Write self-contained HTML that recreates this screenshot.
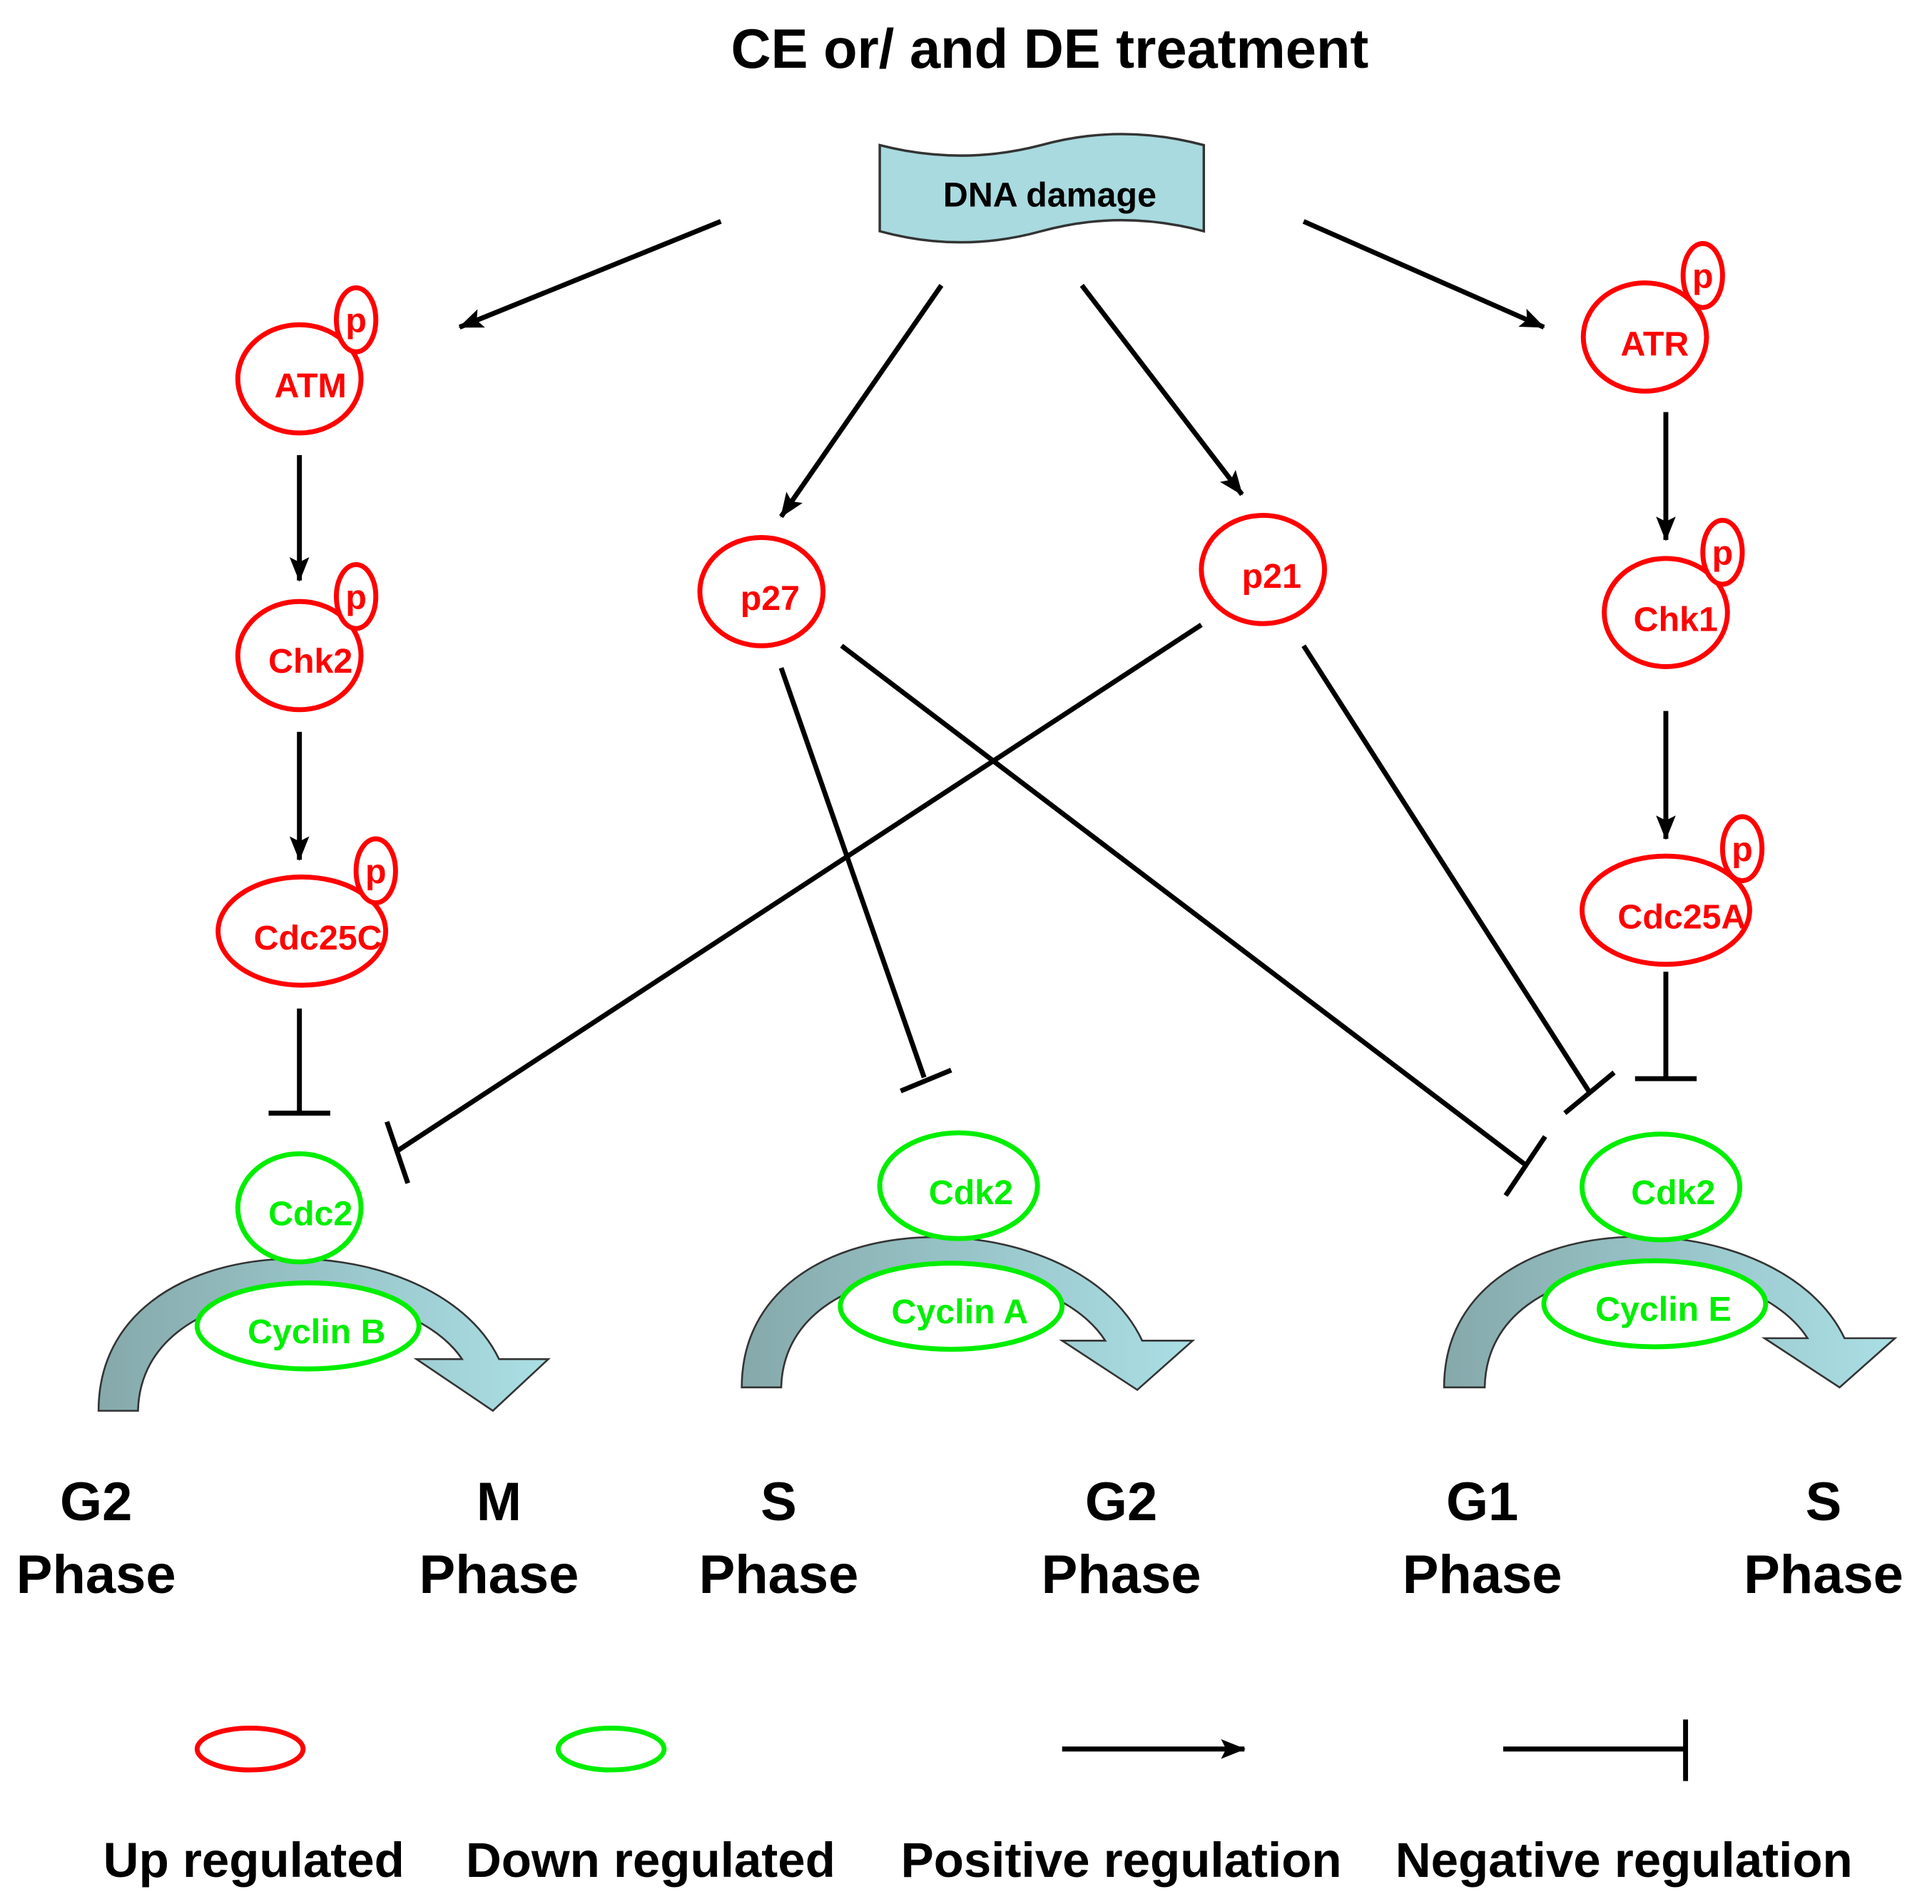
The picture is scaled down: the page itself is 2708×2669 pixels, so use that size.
<!DOCTYPE html>
<html><head><meta charset="utf-8"><style>
html,body{margin:0;padding:0;background:#fff;}
svg{display:block;}
text{font-family:"Liberation Sans",Arial,sans-serif;font-weight:bold;}
</style></head><body>
<svg width="2708" height="2669" viewBox="0 0 1568 1548" preserveAspectRatio="none" xmlns="http://www.w3.org/2000/svg">
<defs>
<marker id="ah" markerWidth="20" markerHeight="16" refX="19" refY="8" orient="auto" markerUnits="userSpaceOnUse" viewBox="0 0 20 16">
<path d="M0,0 L20,8 L0,16 L4,8 Z" fill="#000"/></marker>
<linearGradient id="g1" x1="0" x2="1" y1="0" y2="0"><stop offset="0" stop-color="#86a9ab"/><stop offset="0.5" stop-color="#98c4c8"/><stop offset="1" stop-color="#aadfe5"/></linearGradient>
</defs>
<rect width="1568" height="1548" fill="#fff"/>
<text x="852" y="55" font-size="45" text-anchor="middle">CE or/ and DE treatment</text>
<path d="M714,118 Q780,135 845,118 Q910,100 977,118 L977,188 Q910,170 845,188 Q780,206 714,188 Z" fill="#a8dadf" stroke="#333" stroke-width="2"/>
<text x="852" y="168" font-size="28" text-anchor="middle">DNA damage</text>

<g stroke="#000" stroke-width="4" fill="none" marker-end="url(#ah)">
<line x1="585" y1="180" x2="373" y2="266"/>
<line x1="764" y1="232" x2="634" y2="420"/>
<line x1="878" y1="232" x2="1008" y2="402"/>
<line x1="1058" y1="180" x2="1253" y2="266"/>
<line x1="243" y1="370" x2="243" y2="472"/>
<line x1="243" y1="595" x2="243" y2="699"/>
<line x1="1352" y1="335" x2="1352" y2="439"/>
<line x1="1352" y1="578" x2="1352" y2="682"/>
<line x1="862" y1="1422" x2="1010" y2="1422"/>
</g>
<g stroke="#000" stroke-width="4" fill="none">
<line x1="243" y1="820" x2="243" y2="905"/><line x1="218" y1="905" x2="268" y2="905"/>
<line x1="1352" y1="790" x2="1352" y2="877"/><line x1="1327" y1="877" x2="1377" y2="877"/>
<line x1="975" y1="508" x2="322" y2="936"/><line x1="314" y1="912" x2="331" y2="962"/>
<line x1="634" y1="543" x2="750" y2="876"/><line x1="731" y1="887" x2="772" y2="870"/>
<line x1="683" y1="525" x2="1238" y2="947"/><line x1="1222" y1="972" x2="1254" y2="924"/>
<line x1="1058" y1="525" x2="1290" y2="888"/><line x1="1270" y1="905" x2="1310" y2="872"/>
<line x1="1220" y1="1422" x2="1368" y2="1422"/><line x1="1368" y1="1398" x2="1368" y2="1448"/>
</g>

<g fill="url(#g1)" stroke="#333" stroke-width="1.5">
<path d="M80,1147 C80,990 350,990 405,1105 L445,1105 L400,1147 L338,1105 L375,1105 C325,1030 115,1030 112,1147 Z"/>
<path d="M602,1128 C602,972 872,972 927,1090 L968,1090 L923,1130 L862,1090 L897,1090 C847,1012 637,1012 634,1128 Z"/>
<path d="M1172,1128 C1172,972 1442,972 1497,1088 L1538,1088 L1493,1128 L1432,1088 L1467,1088 C1417,1010 1207,1010 1205,1128 Z"/>
</g>

<g fill="#fff" stroke="#f00" stroke-width="4">
<ellipse cx="243" cy="308" rx="50" ry="44"/><ellipse cx="289" cy="260" rx="16" ry="26"/>
<ellipse cx="243" cy="533" rx="50" ry="44"/><ellipse cx="289" cy="485" rx="16" ry="26"/>
<ellipse cx="245" cy="757" rx="68" ry="44"/><ellipse cx="305" cy="708" rx="16" ry="26"/>
<ellipse cx="618" cy="481" rx="50" ry="44"/>
<ellipse cx="1025" cy="463" rx="50" ry="44"/>
<ellipse cx="1335" cy="274" rx="50" ry="44"/><ellipse cx="1382" cy="224" rx="16" ry="26"/>
<ellipse cx="1352" cy="498" rx="50" ry="44"/><ellipse cx="1398" cy="449" rx="16" ry="26"/>
<ellipse cx="1352" cy="740" rx="68" ry="44"/><ellipse cx="1414" cy="690" rx="16" ry="26"/>
<ellipse cx="203" cy="1422" rx="43" ry="17"/>
</g>
<g fill="#fff" stroke="#0e0" stroke-width="4">
<ellipse cx="243" cy="982" rx="50" ry="44"/>
<ellipse cx="250" cy="1078" rx="90" ry="35"/>
<ellipse cx="778" cy="964" rx="64" ry="43"/>
<ellipse cx="772" cy="1062" rx="90" ry="35"/>
<ellipse cx="1348" cy="965" rx="64" ry="43"/>
<ellipse cx="1343" cy="1060" rx="90" ry="35"/>
<ellipse cx="496" cy="1422" rx="43" ry="17"/>
</g>

<g fill="#f00" font-size="28" text-anchor="middle">
<text x="252" y="323">ATM</text><text x="289" y="270">p</text>
<text x="252" y="547">Chk2</text><text x="289" y="495">p</text>
<text x="258" y="772">Cdc25C</text><text x="305" y="718">p</text>
<text x="625" y="496">p27</text>
<text x="1032" y="478">p21</text>
<text x="1343" y="289">ATR</text><text x="1382" y="234">p</text>
<text x="1360" y="513">Chk1</text><text x="1398" y="459">p</text>
<text x="1365" y="755">Cdc25A</text><text x="1414" y="700">p</text>
</g>
<g fill="#0e0" font-size="28" text-anchor="middle">
<text x="252" y="996">Cdc2</text>
<text x="257" y="1092">Cyclin B</text>
<text x="788" y="979">Cdk2</text>
<text x="779" y="1076">Cyclin A</text>
<text x="1358" y="979">Cdk2</text>
<text x="1350" y="1074">Cyclin E</text>
</g>
<g font-size="44" text-anchor="middle" fill="#000">
<text x="78" y="1236">G2</text><text x="78" y="1295">Phase</text>
<text x="405" y="1236">M</text><text x="405" y="1295">Phase</text>
<text x="632" y="1236">S</text><text x="632" y="1295">Phase</text>
<text x="910" y="1236">G2</text><text x="910" y="1295">Phase</text>
<text x="1203" y="1236">G1</text><text x="1203" y="1295">Phase</text>
<text x="1480" y="1236">S</text><text x="1480" y="1295">Phase</text>
</g>
<g font-size="40" text-anchor="middle" fill="#000">
<text x="206" y="1526">Up regulated</text>
<text x="528" y="1526">Down regulated</text>
<text x="910" y="1526">Positive regulation</text>
<text x="1318" y="1526">Negative regulation</text>
</g>
</svg>
</body></html>
